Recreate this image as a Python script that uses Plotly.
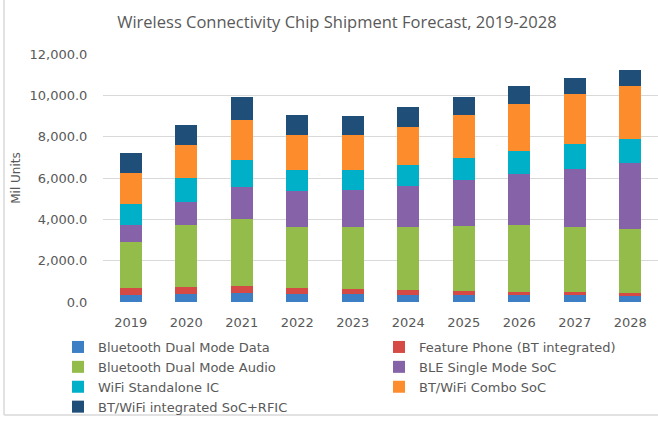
import plotly.graph_objects as go

years = ["2019", "2020", "2021", "2022", "2023", "2024", "2025", "2026", "2027", "2028"]

bt_dual_data = [320, 400, 450, 400, 370, 325, 325, 325, 325, 275]
feature_phone = [360, 310, 310, 275, 275, 240, 210, 160, 160, 160]
bt_dual_audio = [2210, 3030, 3240, 2950, 2985, 3065, 3145, 3225, 3145, 3115]
ble_single = [855, 1080, 1565, 1745, 1790, 1985, 2210, 2470, 2805, 3160]
wifi_standalone = [1000, 1195, 1325, 1035, 985, 1015, 1065, 1145, 1195, 1180]
bt_wifi_combo = [1500, 1595, 1900, 1675, 1660, 1855, 2115, 2275, 2420, 2550]
bt_wifi_integrated = [985, 955, 1115, 985, 920, 935, 840, 840, 805, 805]

# (name, values, colour, legend column)
series = [
    ("Bluetooth Dual Mode Data", bt_dual_data, "#3C7FC4", "legend"),
    ("Feature Phone (BT integrated)", feature_phone, "#D54A45", "legend2"),
    ("Bluetooth Dual Mode Audio", bt_dual_audio, "#93BC4B", "legend"),
    ("BLE Single Mode SoC", ble_single, "#8663A8", "legend2"),
    ("WiFi Standalone IC", wifi_standalone, "#00AFC8", "legend"),
    ("BT/WiFi Combo SoC", bt_wifi_combo, "#FD8C2C", "legend2"),
    ("BT/WiFi integrated SoC+RFIC", bt_wifi_integrated, "#1F4E79", "legend"),
]

W, H = 658, 421
L, R, T, B = 103, 0, 54, 119
pw, ph = W - L - R, H - T - B

def px_x(x):
    return (x - L) / pw

def px_y(y):
    return (H - B - y) / ph

TITLE_FONT = "Open Sans"
FONT = "DejaVu Sans"
GREY = "#595959"

fig = go.Figure()
for name, vals, color, leg in series:
    fig.add_trace(go.Bar(
        x=years, y=vals, name=name, legend=leg,
        marker=dict(color=color, line=dict(width=0)),
    ))

legend_style = dict(
    orientation="v",
    yanchor="top", y=px_y(332),
    xanchor="left",
    font=dict(family=FONT, size=13, color=GREY),
    traceorder="normal",
    itemclick=False, itemdoubleclick=False,
    bgcolor="rgba(0,0,0,0)",
    tracegroupgap=0,
)

fig.update_layout(
    width=W, height=H,
    margin=dict(l=L, r=R, t=T, b=B, autoexpand=False),
    barmode="stack",
    bargap=0.6,
    paper_bgcolor="white",
    plot_bgcolor="white",
    font=dict(family=FONT, color=GREY, size=13),
    title=dict(
        text="Wireless Connectivity Chip Shipment Forecast, 2019-2028",
        x=0.512, xanchor="center", xref="container",
        y=1 - 22 / H, yanchor="middle", yref="container",
        font=dict(family=TITLE_FONT, size=16.5, color=GREY),
    ),
    xaxis=dict(
        showgrid=False, showline=False, zeroline=False,
        ticks="outside", ticklen=8, tickcolor="rgba(0,0,0,0)",
        tickfont=dict(family=FONT, size=13, color=GREY),
    ),
    yaxis=dict(
        range=[0, 12000], dtick=2000, tickformat=",.1f",
        showgrid=True, gridcolor="#D9D9D9", gridwidth=1.3,
        zeroline=False, showline=False,
        ticks="outside", ticklen=12, tickcolor="rgba(0,0,0,0)",
        tickfont=dict(family=FONT, size=13, color=GREY),
        title=dict(text="Mil Units", font=dict(family=FONT, size=12, color=GREY), standoff=6),
    ),
    legend=dict(legend_style, x=px_x(58)),
    legend2=dict(legend_style, x=px_x(379)),
    shapes=[
        dict(type="line", xref="paper", yref="paper",
             x0=px_x(4), x1=px_x(4), y0=px_y(-5), y1=px_y(415),
             line=dict(color="#D9D9D9", width=1.5)),
        dict(type="line", xref="paper", yref="paper",
             x0=px_x(4), x1=px_x(W + 5), y0=px_y(415), y1=px_y(415),
             line=dict(color="#D9D9D9", width=1.5)),
    ],
)

fig.write_html("out.html")
